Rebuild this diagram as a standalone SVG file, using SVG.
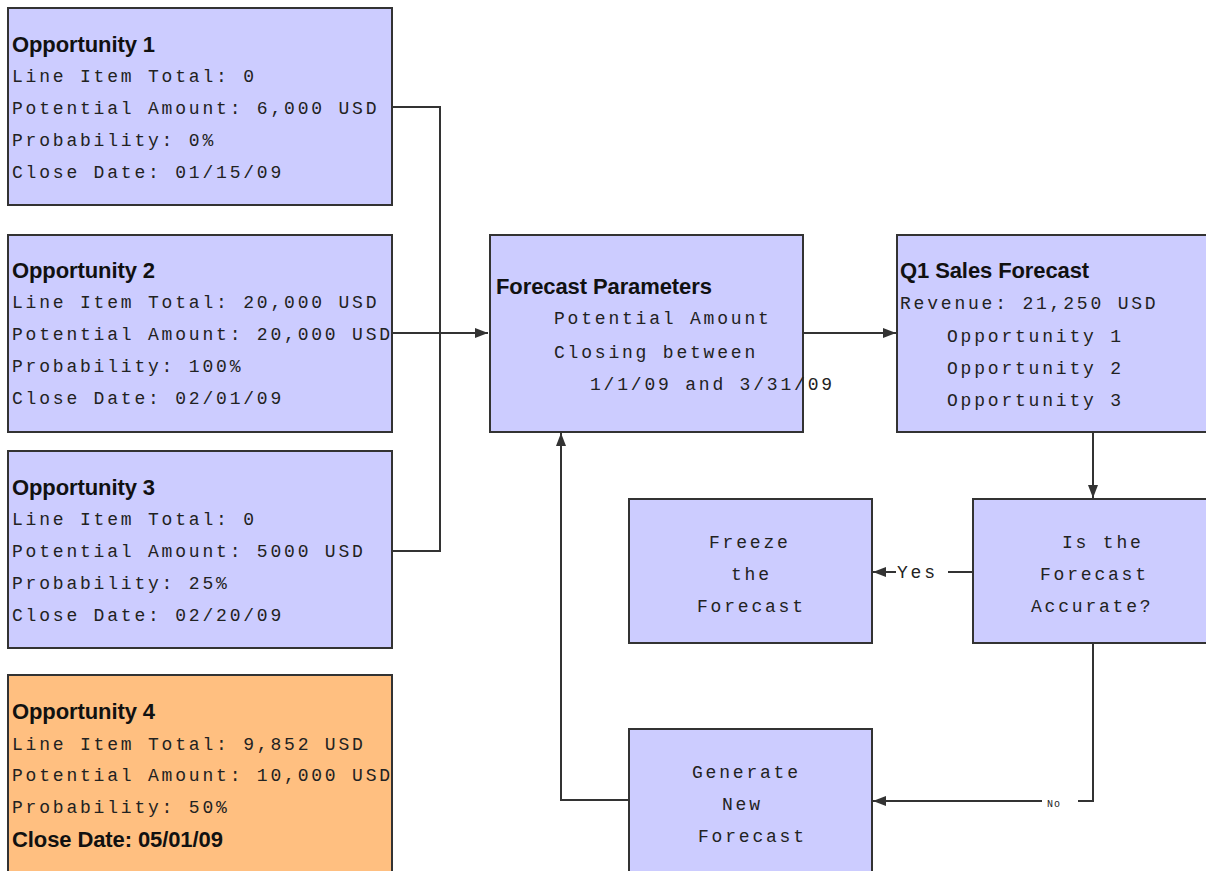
<svg xmlns="http://www.w3.org/2000/svg" width="1206" height="871" viewBox="0 0 1206 871">
<defs>
<style>
.box{fill:#ccccff;stroke:#333;stroke-width:2}
.orange{fill:#ffbf80;stroke:#333;stroke-width:2}
.h{font-family:"Liberation Sans",Arial,sans-serif;font-weight:bold;font-size:22px;fill:#111;letter-spacing:-0.1px}
.m{font-family:"Liberation Mono","Courier New",monospace;font-size:18px;fill:#222;letter-spacing:2.8px}
.s{font-family:"Liberation Mono","Courier New",monospace;font-size:10px;fill:#222;letter-spacing:1px}
.c{fill:none;stroke:#333;stroke-width:2}
</style>
<marker id="arr" viewBox="0 0 13 10" refX="13" refY="5" markerWidth="13" markerHeight="10" markerUnits="userSpaceOnUse" orient="auto">
<path d="M0,0 L13,5 L0,10 Z" fill="#333"/>
</marker>
</defs>

<g id="connectors">
<path class="c" d="M392,107 H440 V551 H392"/>
<path class="c" d="M392,333 H488" marker-end="url(#arr)"/>
<path class="c" d="M803,333 H896" marker-end="url(#arr)"/>
<path class="c" d="M1093,432 V498" marker-end="url(#arr)"/>
<path class="c" d="M973,572 H948"/>
<path class="c" d="M896,572 H873" marker-end="url(#arr)"/>
<path class="c" d="M1093,643 V801 H1078"/>
<path class="c" d="M1042,801 H873" marker-end="url(#arr)"/>
<path class="c" d="M629,800 H561 V433" marker-end="url(#arr)"/>
<text class="m" x="897" y="578">Yes</text>
<text class="s" x="1047" y="807">No</text>
</g>

<g id="opp1">
<rect class="box" x="8" y="8" width="384" height="197"/>
<text class="h" x="12" y="52">Opportunity 1</text>
<text class="m" x="12" y="82">Line Item Total: 0</text>
<text class="m" x="12" y="114">Potential Amount: 6,000 USD</text>
<text class="m" x="12" y="146">Probability: 0%</text>
<text class="m" x="12" y="178">Close Date: 01/15/09</text>
</g>

<g id="opp2">
<rect class="box" x="8" y="235" width="384" height="197"/>
<text class="h" x="12" y="278">Opportunity 2</text>
<text class="m" x="12" y="308">Line Item Total: 20,000 USD</text>
<text class="m" x="12" y="340">Potential Amount: 20,000 USD</text>
<text class="m" x="12" y="372">Probability: 100%</text>
<text class="m" x="12" y="404">Close Date: 02/01/09</text>
</g>

<g id="opp3">
<rect class="box" x="8" y="451" width="384" height="197"/>
<text class="h" x="12" y="495">Opportunity 3</text>
<text class="m" x="12" y="525">Line Item Total: 0</text>
<text class="m" x="12" y="557">Potential Amount: 5000 USD</text>
<text class="m" x="12" y="589">Probability: 25%</text>
<text class="m" x="12" y="621">Close Date: 02/20/09</text>
</g>

<g id="opp4">
<rect class="orange" x="8" y="675" width="384" height="205"/>
<text class="h" x="12" y="719">Opportunity 4</text>
<text class="m" x="12" y="750">Line Item Total: 9,852 USD</text>
<text class="m" x="12" y="781">Potential Amount: 10,000 USD</text>
<text class="m" x="12" y="813">Probability: 50%</text>
<text class="h" x="12" y="847">Close Date: 05/01/09</text>
</g>

<g id="params">
<rect class="box" x="490" y="235" width="313" height="197"/>
<text class="h" x="496" y="294">Forecast Parameters</text>
<text class="m" x="554" y="324">Potential Amount</text>
<text class="m" x="554" y="358">Closing between</text>
<text class="m" x="590" y="390">1/1/09 and 3/31/09</text>
</g>

<g id="q1">
<rect class="box" x="897" y="235" width="312" height="197"/>
<text class="h" x="900" y="278">Q1 Sales Forecast</text>
<text class="m" x="900" y="309">Revenue: 21,250 USD</text>
<text class="m" x="947" y="342">Opportunity 1</text>
<text class="m" x="947" y="374">Opportunity 2</text>
<text class="m" x="947" y="406">Opportunity 3</text>
</g>

<g id="accurate">
<rect class="box" x="973" y="499" width="236" height="144"/>
<text class="m" x="1062" y="548">Is the</text>
<text class="m" x="1040" y="580">Forecast</text>
<text class="m" x="1031" y="612">Accurate?</text>
</g>

<g id="freeze">
<rect class="box" x="629" y="499" width="243" height="144"/>
<text class="m" x="709" y="548">Freeze</text>
<text class="m" x="731" y="580">the</text>
<text class="m" x="697" y="612">Forecast</text>
</g>

<g id="generate">
<rect class="box" x="629" y="729" width="243" height="150"/>
<text class="m" x="692" y="778">Generate</text>
<text class="m" x="722" y="810">New</text>
<text class="m" x="698" y="842">Forecast</text>
</g>
</svg>
